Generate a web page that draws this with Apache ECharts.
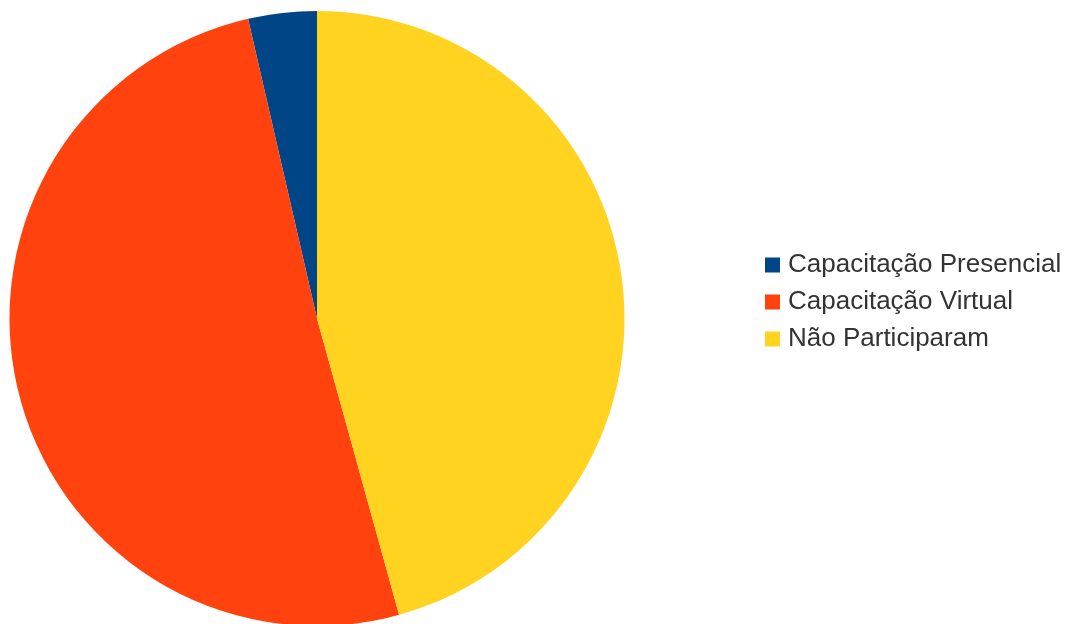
<!DOCTYPE html>
<html><head><meta charset="utf-8">
<script src="https://cdn.jsdelivr.net/npm/echarts@6/dist/echarts.min.js"></script>
<style>html,body{margin:0;padding:0;background:#fff}#c{width:1072px;height:624px}</style>
</head><body><div id="c"></div>
<script>
const categories = ['Capacitação Presencial', 'Capacitação Virtual', 'Não Participaram'];
const values = [3.6, 50.7, 45.7];
const colors = ['#004586', '#ff420e', '#ffd320'];

const chart = echarts.init(document.getElementById('c'), null, {renderer: 'canvas'});
chart.setOption({
  animation: false,
  color: colors,
  legend: {
    orient: 'vertical',
    left: 760,
    top: 247,
    itemWidth: 15,
    itemHeight: 15,
    itemGap: 11,
    icon: 'rect',
    textStyle: {fontFamily: 'Liberation Sans', fontSize: 26, lineHeight: 26, color: '#333333', padding: [0,0,0,3]},
    data: categories
  },
  series: [{
    type: 'pie',
    center: [317, 318.5],
    radius: [0, 307.5],
    startAngle: 90,
    clockwise: false,
    label: {show: false},
    labelLine: {show: false},
    emphasis: {disabled: true},
    itemStyle: {borderWidth: 0},
    data: categories.map((n, i) => ({name: n, value: values[i]}))
  }]
});
</script></body></html>
